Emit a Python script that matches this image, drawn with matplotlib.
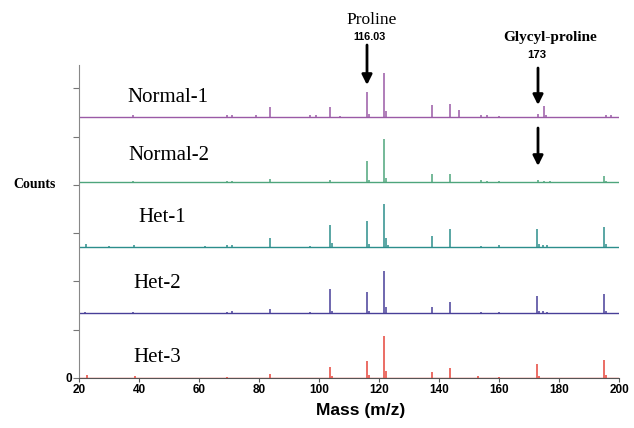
import numpy as np
import matplotlib.pyplot as plt

# stick spectra, heights in counts (a.u.), traces stacked with an offset
names = ['Normal-1', 'Normal-2', 'Het-1', 'Het-2', 'Het-3']
offsets = [261, 196, 131, 65, 0]
colors = ['#9a5aa6', '#4ea57c', '#2c8e8c', '#483f98', '#e6453a']

n1_mz = [38, 69.4, 71, 79, 83.6, 97, 99, 103.7, 107, 116, 116.5, 121.6, 122.2,
         137.6, 143.6, 146.8, 154, 156, 160, 173, 175, 175.6, 195.7, 197.4]
n1_h = [2, 2, 2, 2, 10, 2, 2, 10, 1, 25, 3, 44, 6,
        12, 13, 7, 2, 2, 1, 3, 11, 2, 2, 2]

n2_mz = [38, 69.4, 71, 83.6, 103.7, 116, 116.5, 121.6, 122.2, 137.6, 143.6,
         154, 156, 160, 173, 175, 177, 195, 195.6]
n2_h = [1, 1, 1, 3, 2, 21, 2, 43, 4, 8, 8,
        2, 1, 1, 2, 1, 1, 6, 1]

h1_mz = [22.2, 30, 38.3, 62, 69.4, 71, 83.6, 97, 103.7, 104.3, 116, 116.6,
         121.6, 122.2, 123, 137.6, 143.6, 154, 160, 172.6, 173.2, 174.5, 176,
         195, 195.6]
h1_h = [3, 1, 2, 1, 2, 2, 9, 1, 22, 4, 26, 3,
        43, 9, 2, 11, 18, 1, 2, 18, 3, 2, 2,
        20, 3]

h2_mz = [22, 38, 69.4, 71, 83.6, 97, 103.7, 104.3, 116, 116.6, 121.6, 122.2,
         137.6, 143.6, 154, 160, 172.6, 173.2, 174.5, 176, 195, 195.6]
h2_h = [1, 1, 1, 2, 4, 1, 24, 2, 21, 2, 42, 6,
        6, 11, 1, 1, 17, 2, 2, 1, 19, 2]

h3_mz = [22.5, 38.5, 69.4, 83.6, 103.7, 104.3, 116, 116.6, 121.6, 122.2,
         137.6, 143.6, 153, 160, 172.6, 173.2, 195, 195.6]
h3_h = [3, 2, 1, 4, 11, 2, 17, 3, 42, 7,
        6, 10, 2, 1, 14, 2, 18, 3]

spectra = [(n1_mz, n1_h), (n2_mz, n2_h), (h1_mz, h1_h), (h2_mz, h2_h), (h3_mz, h3_h)]

# label positions (mass, counts)
label_x = [49.7, 50, 47.7, 46, 46]
label_y = [280, 222, 161, 95, 21]

fig = plt.figure(figsize=(6.34, 4.28), dpi=100)
ax = fig.add_axes([79/634, 50/428, 540/634, 313/428])

for (mz, h), off, c, nm, lx, ly in zip(spectra, offsets, colors, names, label_x, label_y):
    ax.hlines(off, 20, 200, color=c, lw=1.0, zorder=2)
    ax.vlines(mz, off, off + np.array(h), color=c, lw=1.1, zorder=3)
    ax.text(lx, ly, nm, ha='center', va='center', fontsize=15,
            family='Liberation Serif')

ax.set_xlim(20, 200)
ax.set_ylim(0, 313)
ax.set_xticks(np.arange(20, 201, 20))
ax.set_yticks(np.arange(0, 313, 48.3))
ax.set_yticklabels(['0'] + [''] * 6)
for lab in ax.get_xticklabels() + ax.get_yticklabels():
    lab.set_fontweight('bold')
    lab.set_fontsize(8.5)
    lab.set_family('Liberation Sans')
ax.tick_params(axis='x', length=3, pad=1, color='#555555')
ax.tick_params(axis='y', length=4, pad=1, color='#777777')
ax.spines['top'].set_visible(False)
ax.spines['right'].set_visible(False)
ax.spines['left'].set_color('#888888')
ax.spines['bottom'].set_color('#555555')

# annotations above the plot
ax.text(117.5, 358, 'Proline', ha='center', va='center', fontsize=12.5,
        family='Liberation Serif', clip_on=False)
ax.text(116.7, 341, '116.03', ha='center', va='center', fontsize=7.8,
        family='Liberation Sans', fontweight='bold', clip_on=False)
ax.text(177, 341, 'Glycyl-proline', ha='center', va='center', fontsize=11,
        family='Liberation Serif', fontweight='bold', clip_on=False)
ax.text(172.5, 323, '173', ha='center', va='center', fontsize=8.2,
        family='Liberation Sans', fontweight='bold', clip_on=False)

arrow = dict(arrowstyle='-|>,head_width=0.3,head_length=0.6', lw=2, color='black',
             shrinkA=0, shrinkB=0)
ax.annotate('', xy=(116, 293), xytext=(116, 333), arrowprops=arrow,
            annotation_clip=False)
ax.annotate('', xy=(173, 273), xytext=(173, 310), arrowprops=arrow,
            annotation_clip=False)
ax.annotate('', xy=(173, 212), xytext=(173, 250), arrowprops=arrow,
            annotation_clip=False)

fig.text(35/634, 1 - 184/428, 'Counts', ha='center', va='center', fontsize=10,
         family='Liberation Serif', fontweight='bold')
fig.text(361/634, 1 - 410/428, 'Mass (m/z)', ha='center', va='center',
         fontsize=12.5, family='Liberation Sans', fontweight='bold')

fig.savefig('out.png', dpi=100)
